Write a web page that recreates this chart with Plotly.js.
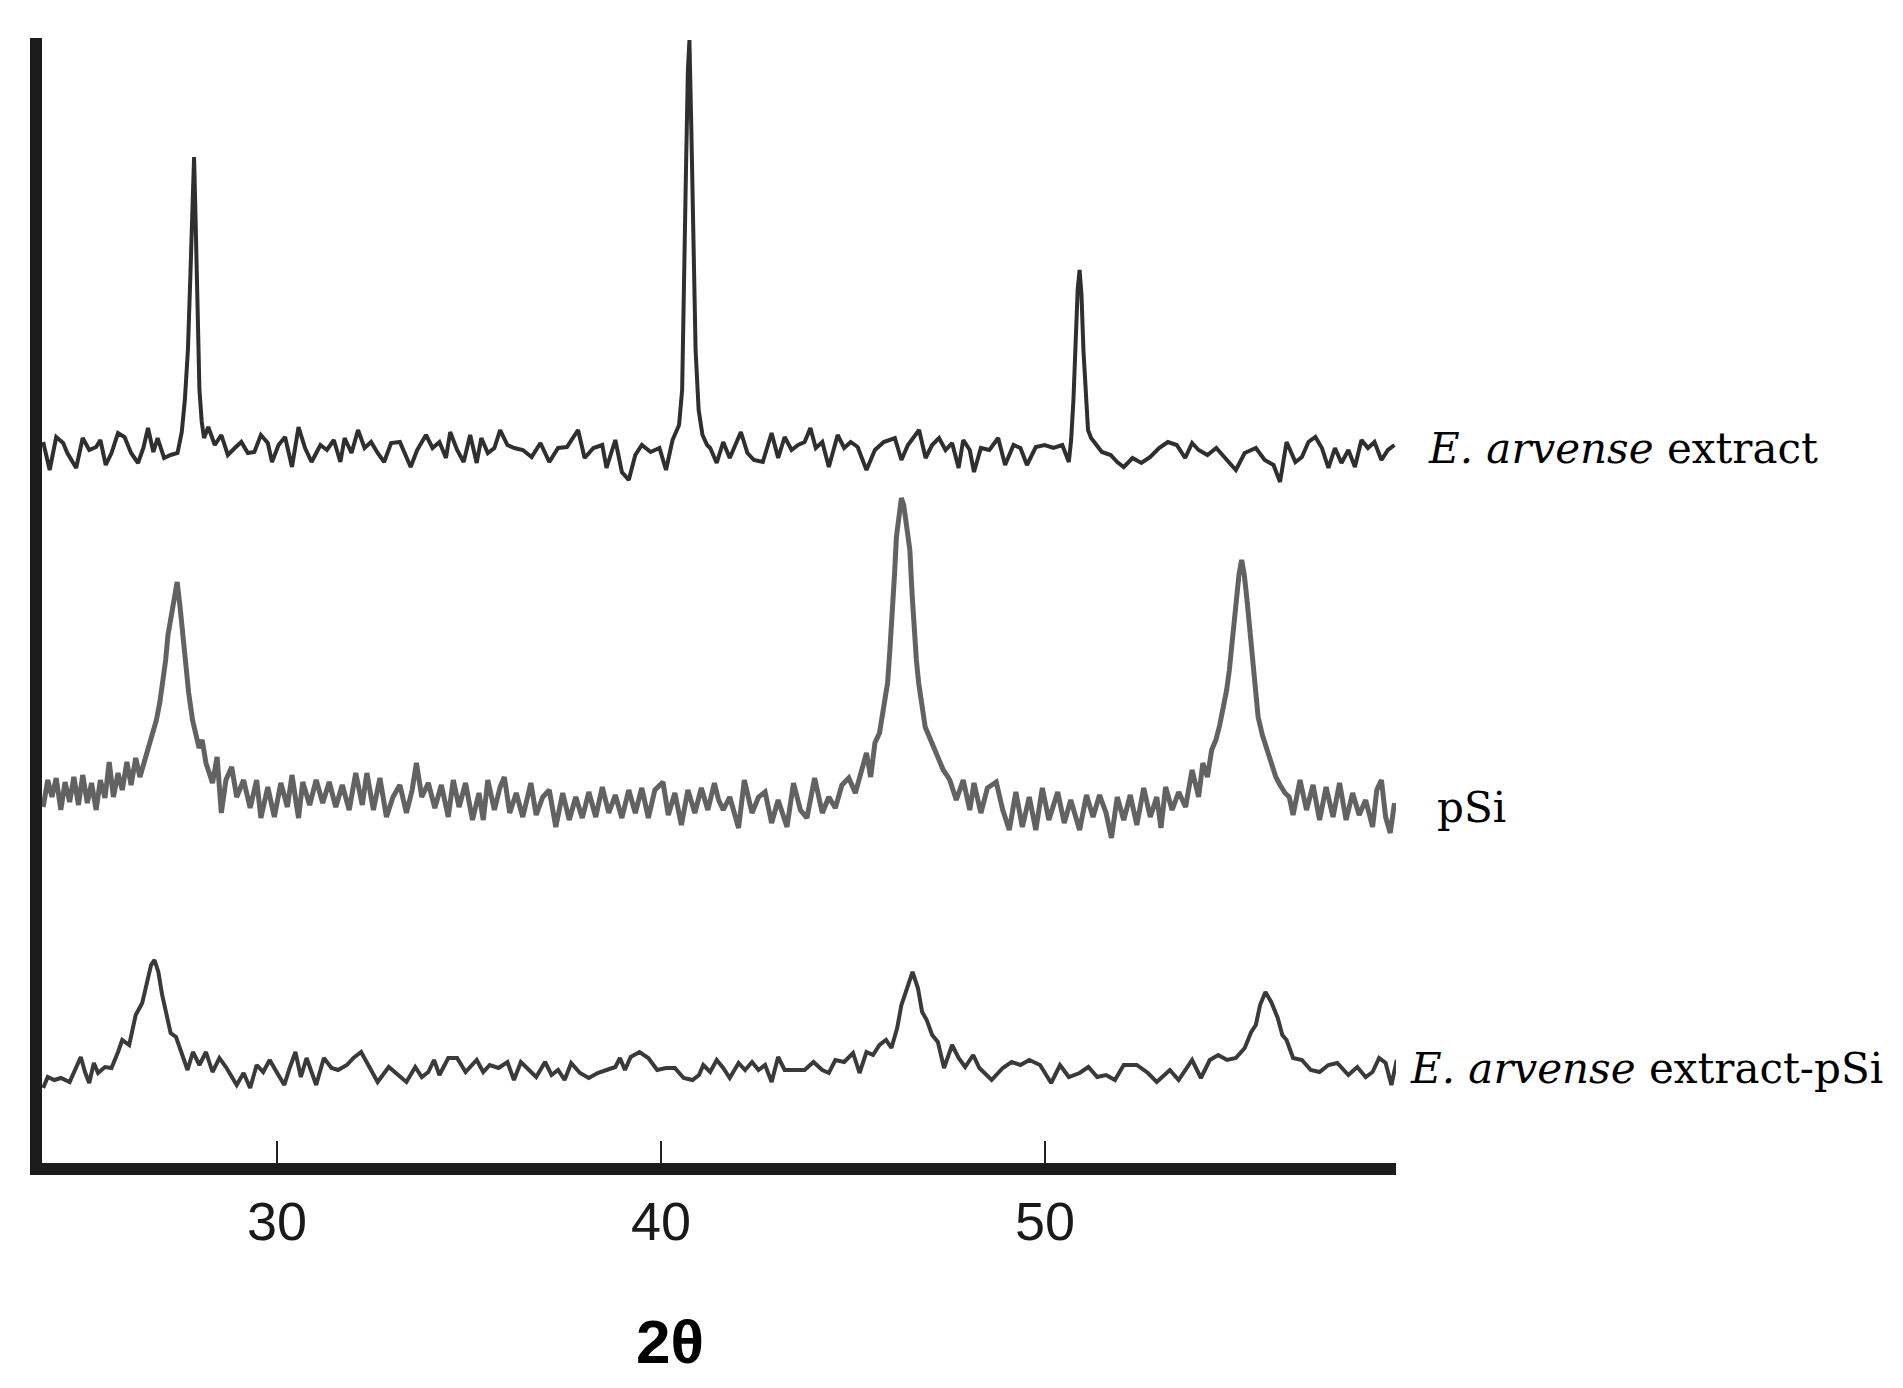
<!DOCTYPE html>
<html>
<head>
<meta charset="utf-8">
<script src="https://cdn.plot.ly/plotly-3.0.1.min.js"></script>
<style>
  body { margin: 0; background: #fff; }
  #plotArea { width: 1903px; height: 1388px; }
</style>
</head>
<body>
<div id="plotArea"></div>
<script>
// XRD patterns, 2theta in degrees, intensity in arbitrary counts above each pattern's baseline
var seriesNames = ["E. arvense extract", "pSi", "E. arvense extract-pSi"];
var seriesOffsets = [709, 349, 89];
var seriesColors = ["#2f2f2f", "#626262", "#3a3a3a"];
var xTicks = [30, 40, 50];
var xTickText = ["30", "40", "50"];

var extractX = [
  23.91, 24.08, 24.25, 24.43, 24.54, 24.77, 24.94, 25.11, 25.29, 25.40,
  25.54, 25.69, 25.86, 26.03, 26.20, 26.38, 26.52, 26.64, 26.78, 26.89,
  27.06, 27.23, 27.41, 27.52, 27.60, 27.68, 27.74, 27.79, 27.84, 27.88,
  27.93, 27.98, 28.04, 28.10, 28.21, 28.38, 28.55, 28.72, 28.90, 29.07,
  29.24, 29.41, 29.58, 29.76, 29.87, 30.04, 30.21, 30.39, 30.56, 30.73,
  30.90, 31.13, 31.30, 31.48, 31.65, 31.76, 31.94, 32.11, 32.28, 32.45,
  32.62, 32.79, 32.97, 33.20, 33.48, 33.65, 33.88, 34.05, 34.23, 34.40,
  34.51, 34.69, 34.86, 35.03, 35.20, 35.32, 35.49, 35.66, 35.81, 36.00,
  36.18, 36.40, 36.63, 36.86, 37.09, 37.32, 37.55, 37.84, 38.01, 38.24,
  38.47, 38.58, 38.81, 38.98, 39.16, 39.33, 39.50, 39.73, 39.96, 40.13,
  40.30, 40.47, 40.55, 40.60, 40.65, 40.70, 40.74, 40.79, 40.84, 40.90,
  40.98, 41.08, 41.20, 41.28, 41.45, 41.62, 41.79, 41.91, 42.08, 42.25,
  42.42, 42.65, 42.88, 43.05, 43.22, 43.40, 43.57, 43.74, 43.89, 44.03,
  44.20, 44.37, 44.60, 44.77, 44.94, 45.12, 45.35, 45.57, 45.80, 46.09,
  46.26, 46.43, 46.72, 46.89, 47.06, 47.24, 47.41, 47.58, 47.75, 47.87,
  48.04, 48.15, 48.33, 48.55, 48.78, 48.96, 49.18, 49.36, 49.53, 49.76,
  49.99, 50.22, 50.45, 50.62, 50.68, 50.74, 50.80, 50.85, 50.90, 50.95,
  51.00, 51.06, 51.12, 51.20, 51.48, 51.71, 51.88, 52.05, 52.28, 52.51,
  52.74, 52.97, 53.20, 53.43, 53.65, 53.83, 54.00, 54.23, 54.46, 54.69,
  54.97, 55.20, 55.49, 55.72, 55.95, 56.12, 56.29, 56.52, 56.69, 56.86,
  57.04, 57.21, 57.38, 57.55, 57.72, 57.90, 58.07, 58.24, 58.41, 58.58,
  58.76, 58.93, 59.10
];
var extractY = [
  18, -10, 23, 17, 7, -8, 22, 10, 13, 20,
  -5, 7, 27, 23, 7, -3, 12, 32, 8, 22,
  2, 5, 7, 28, 60, 110, 180, 260, 303, 240,
  150, 70, 38, 22, 33, 15, 25, 5, 12, 18,
  7, 8, 25, 17, -2, 15, 23, -7, 33, 12,
  -2, 15, 10, 20, -2, 22, 7, 30, 12, 18,
  7, -2, 17, 18, -7, 10, 25, 12, 18, 2,
  28, 10, -2, 25, -3, 22, 7, 12, 30, 15,
  12, 10, 3, 17, -2, 12, 13, 30, 2, 12,
  15, -8, 20, -12, -20, 5, 15, 8, 12, -10,
  20, 35, 70, 160, 290, 390, 420, 330, 200, 110,
  50, 25, 15, 12, -3, 18, 2, 12, 28, 7,
  0, -2, 27, 2, 23, 10, 15, 18, 32, 12,
  18, -7, 25, 12, 18, 13, -10, 10, 18, 22,
  0, 15, 30, 2, 15, 22, 10, 17, -8, 20,
  10, -12, 12, 10, 22, -5, 15, 12, -5, 13,
  15, 12, 15, -2, 20, 60, 120, 170, 190, 165,
  110, 60, 30, 22, 8, 5, -2, -7, 2, -3,
  3, 12, 18, 15, 2, 17, 10, 5, 12, 2,
  -10, 7, 12, 0, -5, -22, 18, -2, 3, 18,
  23, 12, -8, 12, -3, 10, -7, 20, 12, 18,
  0, 10, 15
];

var psiX = [
  23.91, 24.03, 24.14, 24.25, 24.37, 24.48, 24.60, 24.71, 24.83, 24.94,
  25.06, 25.17, 25.29, 25.40, 25.52, 25.63, 25.74, 25.86, 25.97, 26.09,
  26.20, 26.32, 26.43, 26.55, 26.66, 26.76, 26.86, 26.95, 27.03, 27.10,
  27.16, 27.24, 27.32, 27.40, 27.47, 27.53, 27.60, 27.70, 27.80, 27.89,
  27.97, 28.05, 28.15, 28.32, 28.44, 28.55, 28.67, 28.82, 28.95, 29.13,
  29.30, 29.47, 29.58, 29.76, 29.93, 30.10, 30.27, 30.39, 30.56, 30.67,
  30.85, 31.02, 31.19, 31.36, 31.53, 31.70, 31.88, 32.05, 32.22, 32.34,
  32.51, 32.68, 32.85, 33.02, 33.20, 33.37, 33.52, 33.63, 33.77, 33.94,
  34.11, 34.28, 34.46, 34.59, 34.74, 34.91, 35.09, 35.26, 35.37, 35.49,
  35.66, 35.81, 35.92, 36.06, 36.23, 36.40, 36.61, 36.75, 36.92, 37.09,
  37.26, 37.44, 37.61, 37.78, 37.95, 38.12, 38.30, 38.47, 38.64, 38.81,
  38.98, 39.16, 39.33, 39.50, 39.67, 39.84, 40.05, 40.19, 40.36, 40.53,
  40.70, 40.88, 41.05, 41.22, 41.39, 41.50, 41.62, 41.79, 42.02, 42.17,
  42.37, 42.54, 42.71, 42.88, 43.05, 43.28, 43.45, 43.63, 43.80, 44.00,
  44.20, 44.37, 44.54, 44.71, 44.89, 45.06, 45.23, 45.35, 45.46, 45.57,
  45.69, 45.80, 45.90, 45.96, 46.02, 46.08, 46.13, 46.20, 46.26, 46.32,
  46.40, 46.48, 46.54, 46.59, 46.65, 46.71, 46.80, 46.88, 47.00, 47.12,
  47.22, 47.35, 47.44, 47.52, 47.69, 47.87, 48.04, 48.15, 48.33, 48.50,
  48.73, 48.90, 49.07, 49.24, 49.41, 49.59, 49.76, 49.93, 50.10, 50.33,
  50.50, 50.67, 50.90, 51.08, 51.25, 51.42, 51.59, 51.73, 51.88, 52.05,
  52.22, 52.39, 52.57, 52.74, 52.91, 53.02, 53.14, 53.31, 53.48, 53.66,
  53.83, 54.00, 54.11, 54.23, 54.34, 54.45, 54.55, 54.64, 54.73, 54.80,
  54.85, 54.91, 54.97, 55.05, 55.12, 55.19, 55.26, 55.32, 55.37, 55.45,
  55.55, 55.66, 55.78, 55.90, 56.01, 56.12, 56.25, 56.36, 56.46, 56.64,
  56.81, 56.98, 57.15, 57.32, 57.50, 57.67, 57.84, 58.01, 58.18, 58.35,
  58.53, 58.64, 58.76, 58.87, 58.99, 59.10
];
var psiY = [
  13, 40, 23, 42, 10, 38, 18, 43, 15, 45,
  17, 37, 10, 40, 22, 58, 23, 47, 30, 58,
  35, 62, 43, 60, 72, 85, 100, 118, 140, 160,
  185, 205, 225, 238, 215, 190, 165, 127, 100, 87,
  72, 80, 57, 37, 63, 7, 40, 53, 23, 40,
  12, 40, 2, 33, 3, 37, 13, 45, 2, 38,
  15, 40, 17, 38, 13, 35, 10, 47, 15, 47,
  10, 42, 3, 23, 35, 7, 30, 57, 23, 37,
  12, 35, 3, 40, 13, 37, 0, 27, 0, 40,
  10, 33, 43, 7, 27, 3, 37, 5, 23, 30,
  -7, 27, 0, 23, 2, 28, 3, 33, 7, 25,
  2, 30, 7, 32, 2, 30, 38, 5, 27, -5,
  30, 7, 32, 10, 37, 20, 10, 23, -8, 40,
  7, 23, 28, -3, 20, -7, 37, 10, 2, 42,
  7, 23, 12, 35, 42, 27, 53, 67, 43, 77,
  87, 110, 137, 170, 203, 245, 283, 310, 322, 315,
  295, 270, 225, 187, 160, 137, 110, 93, 82, 70,
  60, 50, 45, 40, 20, 40, 10, 37, 7, 32,
  38, 10, -10, 28, -7, 23, -10, 32, 0, 28,
  -3, 20, -10, 25, 3, 25, 7, -18, 23, 0,
  25, -5, 32, 3, 23, -8, 33, 10, 28, 13,
  50, 23, 57, 43, 70, 80, 95, 112, 130, 150,
  170, 190, 213, 245, 260, 245, 220, 195, 170, 135,
  103, 85, 70, 55, 43, 35, 27, 23, 5, 40,
  10, 35, 0, 33, 3, 37, 0, 27, 5, 20,
  -7, 30, 40, 3, -13, 17
];

var mixX = [
  23.91, 24.03, 24.20, 24.37, 24.60, 24.77, 24.89, 25.00, 25.11, 25.23,
  25.34, 25.52, 25.69, 25.86, 25.97, 26.15, 26.32, 26.49, 26.60, 26.72,
  26.81, 26.91, 27.01, 27.12, 27.23, 27.37, 27.52, 27.67, 27.81, 27.98,
  28.15, 28.32, 28.50, 28.67, 28.95, 29.13, 29.30, 29.47, 29.64, 29.81,
  29.99, 30.19, 30.33, 30.48, 30.62, 30.77, 31.02, 31.22, 31.42, 31.59,
  31.82, 31.99, 32.19, 32.34, 32.62, 32.91, 33.14, 33.37, 33.60, 33.77,
  33.94, 34.09, 34.23, 34.46, 34.69, 34.91, 35.20, 35.37, 35.54, 35.77,
  36.00, 36.17, 36.35, 36.58, 36.75, 36.98, 37.15, 37.32, 37.49, 37.66,
  37.89, 38.12, 38.35, 38.58, 38.81, 38.93, 39.06, 39.21, 39.44, 39.67,
  39.90, 40.13, 40.36, 40.59, 40.82, 40.99, 41.10, 41.28, 41.45, 41.62,
  41.79, 42.02, 42.19, 42.37, 42.54, 42.71, 42.88, 43.05, 43.22, 43.51,
  43.74, 43.97, 44.20, 44.37, 44.54, 44.77, 45.00, 45.17, 45.35, 45.52,
  45.69, 45.86, 46.00, 46.15, 46.26, 46.41, 46.55, 46.69, 46.80, 46.92,
  47.06, 47.21, 47.37, 47.58, 47.75, 47.92, 48.13, 48.29, 48.61, 48.90,
  49.13, 49.36, 49.59, 49.87, 50.16, 50.39, 50.62, 50.90, 51.13, 51.36,
  51.59, 51.82, 52.05, 52.39, 52.68, 52.91, 53.25, 53.48, 53.83, 54.06,
  54.29, 54.51, 54.74, 54.97, 55.20, 55.37, 55.49, 55.60, 55.74, 55.89,
  56.06, 56.18, 56.29, 56.46, 56.69, 56.92, 57.15, 57.38, 57.61, 57.90,
  58.13, 58.35, 58.53, 58.70, 58.87, 59.02, 59.16
];
var mixY = [
  -8, 3, 0, 2, -2, 12, 23, 8, -3, 17,
  7, 13, 12, 28, 40, 35, 65, 77, 95, 115,
  120, 108, 85, 65, 47, 43, 25, 10, 28, 15,
  28, 8, 22, 13, -5, 7, -8, 15, 8, 20,
  8, -5, 12, 28, 3, 22, -5, 22, 12, 10,
  15, 22, 28, 18, -2, 13, 5, -2, 13, 3,
  8, 20, 5, 22, 22, 8, 20, 8, 15, 12,
  18, 0, 18, 10, 3, 18, 5, 10, 0, 17,
  7, 2, 7, 10, 13, 22, 10, 23, 28, 22,
  10, 12, 12, 2, 0, 5, 15, 8, 20, 12,
  2, 17, 10, 18, 10, 15, -2, 23, 10, 10,
  10, 18, 10, 7, 20, 18, 27, 7, 28, 25,
  35, 40, 32, 52, 75, 92, 108, 92, 68, 60,
  45, 38, 12, 35, 22, 13, 25, 12, 0, 12,
  18, 15, 20, 15, -3, 15, 3, 7, 13, 3,
  5, 0, 15, 15, 7, -2, 10, 0, 20, 2,
  20, 25, 20, 22, 32, 48, 55, 75, 88, 78,
  62, 45, 40, 22, 20, 10, 8, 15, 17, 5,
  13, 3, 8, 22, 17, -5, 20
];

var xs = [extractX, psiX, mixX];
var ys = [extractY, psiY, mixY];
var widths = [4, 5, 4];

var data = xs.map(function (x, i) {
  return {
    x: x,
    y: ys[i].map(function (v) { return v + seriesOffsets[i]; }),
    type: 'scatter',
    mode: 'lines',
    name: seriesNames[i],
    line: {color: seriesColors[i], width: widths[i]},
    hoverinfo: 'skip'
  };
});

var labelFont = {family: 'DejaVu Serif, serif', size: 42, color: '#000'};

var layout = {
  width: 1903,
  height: 1388,
  margin: {l: 42, r: 507, t: 38, b: 225},
  paper_bgcolor: '#fff',
  plot_bgcolor: '#fff',
  showlegend: false,
  xaxis: {
    range: [23.88, 59.14],
    showline: true,
    linewidth: 12,
    linecolor: '#1c1c1c',
    ticks: 'inside',
    ticklen: 22,
    tickwidth: 2.5,
    tickcolor: '#222',
    tickvals: xTicks,
    ticktext: xTickText,
    tickfont: {family: 'Liberation Sans, Arial, sans-serif', size: 54, color: '#1a1a1a'},
    showgrid: false,
    zeroline: false
  },
  yaxis: {
    range: [6, 1131],
    showline: true,
    linewidth: 12,
    linecolor: '#1c1c1c',
    showticklabels: false,
    ticks: '',
    showgrid: false,
    zeroline: false
  },
  annotations: [
    {xref: 'paper', yref: 'paper', x: 0.4638, y: -0.159, xanchor: 'center', yanchor: 'middle',
     text: '<b>2θ</b>', showarrow: false,
     font: {family: 'Liberation Sans, Arial, sans-serif', size: 62, color: '#000'}},
    {xref: 'paper', yref: 'paper', x: 1.0222, y: 0.6347, xanchor: 'left', yanchor: 'middle',
     text: '<i>E. arvense</i> extract', showarrow: false, font: labelFont},
    {xref: 'paper', yref: 'paper', x: 1.0288, y: 0.3164, xanchor: 'left', yanchor: 'middle',
     text: 'pSi', showarrow: false, font: labelFont},
    {xref: 'paper', yref: 'paper', x: 1.0089, y: 0.0844, xanchor: 'left', yanchor: 'middle',
     text: '<i>E. arvense</i> extract-pSi', showarrow: false, font: labelFont}
  ]
};

Plotly.newPlot('plotArea', data, layout, {staticPlot: true});
</script>
</body>
</html>
